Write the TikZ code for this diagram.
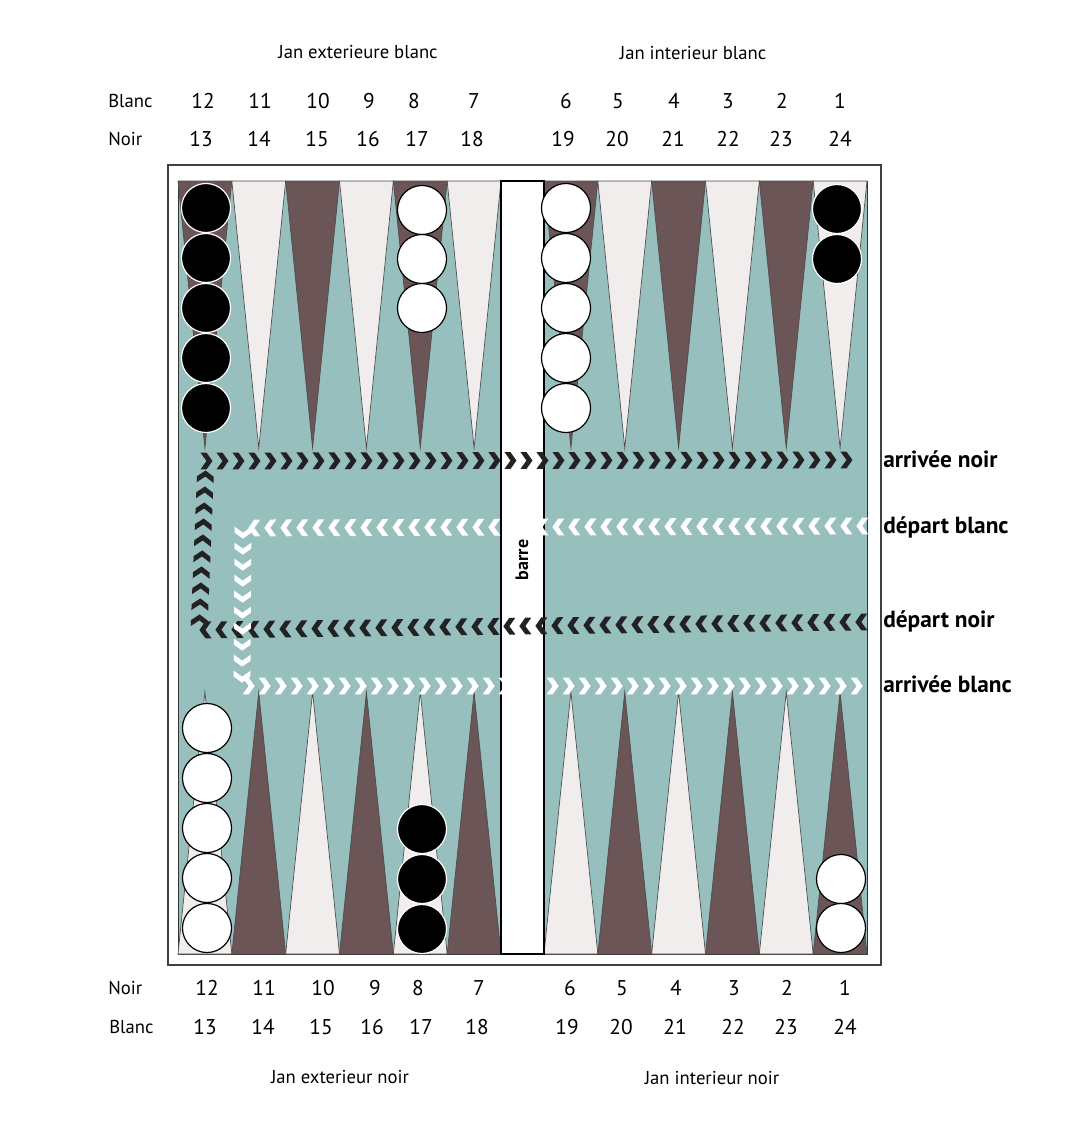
\documentclass[tikz,border=0pt]{standalone}
\usepackage{fontspec}
\setmainfont{PT Sans}
\usetikzlibrary{decorations.markings}
\definecolor{boardteal}{RGB}{151,191,190}
\definecolor{pointdark}{RGB}{107,85,87}
\definecolor{pointlight}{RGB}{241,237,236}
\definecolor{chevdark}{RGB}{34,34,34}

\tikzset{
  rowlabel/.style={font=\fontsize{14}{16}\selectfont},
  numlabel/.style={font=\fontsize{16}{19}\selectfont, inner sep=0pt},
  pathlabel/.style={font=\fontsize{17.5}{20}\selectfont\bfseries, anchor=base west, inner sep=0pt},
  chevrons/.style={decorate, decoration={markings,
      mark=between positions 0 and 1 step 12pt with
      {\fill[#1] (-5.5pt,6.3pt) -- (-1pt,6.3pt) -- (3.5pt,0pt) -- (-1pt,-6.3pt) -- (-5.5pt,-6.3pt) -- (-1pt,0pt) -- cycle;}}},
  blackman/.style={fill=black, draw=white, line width=0.9pt},
  whiteman/.style={fill=white, draw=black, line width=0.9pt},
  pointline/.style={draw=black!70, line width=0.5pt},
}

\begin{document}
\begin{tikzpicture}[x=0.75pt, y=-0.75pt]
  \useasboundingbox (0,0) rectangle (1080,1121);

  % Frame and board
  \draw[draw=black!75, line width=1.2pt, fill=white] (168,165) rectangle (881,965);
  \draw[fill=boardteal, draw=black!80, line width=0.6pt] (178,181) rectangle (867,954);

  % Points
  \foreach \k in {0,...,11}{
    \pgfmathsetmacro\xl{178+\k*53.833+(\k>5)*43}
    \pgfmathsetmacro\xr{\xl+53.833}
    \pgfmathsetmacro\xm{\xl+26.917}
    \ifodd\k \def\topcol{pointlight}\def\botcol{pointdark}
    \else \def\topcol{pointdark}\def\botcol{pointlight}\fi
    \draw[pointline, fill=\topcol] (\xl,181) -- (\xm,448) -- (\xr,181) -- cycle;
    \draw[pointline, fill=\botcol] (\xl,954) -- (\xm,692) -- (\xr,954) -- cycle;
  }

  % Bar
  \draw[fill=white, draw=black, line width=0.8pt] (501,181) rectangle (544,954);
  \node[rotate=90, font=\fontsize{13.5}{15}\selectfont\bfseries] (barre) at (522,560) {barre};

  % Checkers
  \foreach \y in {208,258,...,408} \draw[blackman] (206,\y) circle[radius=18.4pt];
  \foreach \y in {210,259,308} \draw[whiteman] (422,\y) circle[radius=18.4pt];
  \foreach \y in {208,258,...,408} \draw[whiteman] (566,\y) circle[radius=18.4pt];
  \foreach \y in {209,259} \draw[blackman] (837,\y) circle[radius=18.4pt];
  \foreach \y in {728,778,...,928} \draw[whiteman] (207,\y) circle[radius=18.4pt];
  \foreach \y in {829,879,929} \draw[blackman] (422,\y) circle[radius=18.4pt];
  \foreach \y in {879,928} \draw[whiteman] (841,\y) circle[radius=18.4pt];

  % Chevron paths
  \path[chevrons=chevdark] (860,622) -- (199,630) -- (206,461) -- (848,460);
  \path[chevrons=white] (861,526) -- (243,528) -- (242,686) -- (864,686);

  \node[pathlabel] (arrnoir) at (883,467) {arrivée noir};
  \node[pathlabel] (depblanc) at (883,533) {départ blanc};
  \node[pathlabel] (depnoir) at (883,627) {départ noir};
  \node[pathlabel] (arrblanc) at (883,692) {arrivée blanc};

  % Numbering, top
  \node[rowlabel] (janextb) at (358,52) {Jan exterieure blanc};
  \node[rowlabel] (janintb) at (693,53) {Jan interieur blanc};
  \node[rowlabel, anchor=west, inner sep=0pt] (blanctop) at (108,101) {Blanc};
  \node[rowlabel, anchor=west, inner sep=0pt] (noirtop) at (108,139) {Noir};
  \foreach \x/\n in {203/12,260/11,318/10,369/9,414/8,474/7,566/6,618/5,674/4,728/3,782/2,840/1}
    \node[numlabel] (tb\n) at (\x,101) {\n};
  \foreach \x/\n in {201/13,259/14,317/15,368/16,417/17,472/18,563/19,617/20,673/21,728/22,781/23,840/24}
    \node[numlabel] (tn\n) at (\x,139) {\n};

  % Numbering, bottom
  \node[rowlabel, anchor=west, inner sep=0pt] (noirbot) at (108,988) {Noir};
  \node[rowlabel, anchor=west, inner sep=0pt] (blancbot) at (109,1027) {Blanc};
  \foreach \x/\n in {207/12,264/11,323/10,375/9,418/8,479/7,570/6,622/5,676/4,734/3,787/2,845/1}
    \node[numlabel] (bn\n) at (\x,988) {\n};
  \foreach \x/\n in {205/13,263/14,321/15,372/16,421/17,477/18,567/19,621/20,675/21,733/22,786/23,845/24}
    \node[numlabel] (bb\n) at (\x,1027) {\n};
  \node[rowlabel] (janextn) at (340,1077) {Jan exterieur noir};
  \node[rowlabel] (janintn) at (712,1078) {Jan interieur noir};
\end{tikzpicture}
\end{document}
